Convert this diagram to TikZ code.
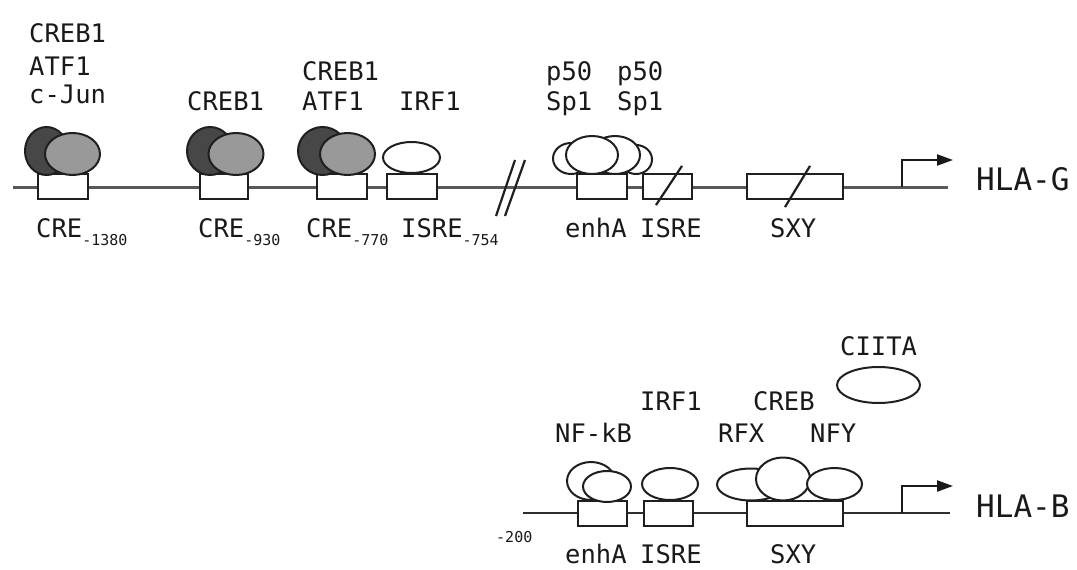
\documentclass[tikz,border=0pt]{standalone}
\usepackage{fontspec}
\newfontfamily\mono{DejaVu Sans Mono}
\newcommand\subsz{\fontsize{15}{18}\selectfont}
\usetikzlibrary{shapes.geometric,arrows.meta}
\begin{document}
\begin{tikzpicture}[x=1pt,y=-1pt,
  lbl/.style={font=\mono\fontsize{25.5}{30}\selectfont, text=black!90, inner sep=0, anchor=base west},
  big/.style={font=\mono\fontsize{31}{36}\selectfont, text=black!90, inner sep=0, anchor=base west},
  sublbl/.style={font=\mono\subsz, text=black!90, inner sep=0, anchor=base west},
  dnaG/.style={draw=black!65, line width=3pt},
  dnaB/.style={draw=black!82, line width=2.4pt},
  site/.style={rectangle, draw=black!88, line width=2.2pt, fill=white, inner sep=0, minimum height=25},
  prot/.style={ellipse, draw=black!88, line width=2pt, fill=white, inner sep=0},
  darkp/.style={prot, fill=black!72},
  grayp/.style={prot, fill=black!40},
  tss/.style={draw=black!90, line width=2.2pt, -{Triangle[length=16pt,width=11pt]}},
  brk/.style={draw=black!88, line width=2.2pt},
]
\useasboundingbox (0,0) rectangle (1077,570);

% ---------------- HLA-G ----------------
\coordinate (gL) at (13,187);
\coordinate (gR) at (948,187);
\draw[dnaG] (gL) -- (gR);

% break
\coordinate (k1a) at (496,216); \coordinate (k1b) at (515,160);
\coordinate (k2a) at (505,216); \coordinate (k2b) at (525,160);
\draw[brk] (k1a) -- (k1b);
\draw[brk] (k2a) -- (k2b);

% sites
\node[site, minimum width=50] (cre1) at (63,186.5) {};
\node[site, minimum width=48] (cre2) at (224,186.5) {};
\node[site, minimum width=50] (cre3) at (342,186.5) {};
\node[site, minimum width=50] (isre1) at (412,186.5) {};
\node[site, minimum width=50] (enhG) at (602,186.5) {};
\node[site, minimum width=49] (isreG) at (667.5,186.5) {};
\node[site, minimum width=96] (sxyG) at (795,186.5) {};
\draw[brk] ([shift={(-11.5,5)}]isreG.south) -- ([shift={(14.5,-7)}]isreG.north);
\draw[brk] ([shift={(-10,7)}]sxyG.south) -- ([shift={(15,-7)}]sxyG.north);

% proteins
\node[darkp, minimum width=43, minimum height=48] (d1) at (46.5,151) {};
\node[grayp, minimum width=55, minimum height=42] (g1) at (72.5,154) {};
\node[darkp, minimum width=46, minimum height=48] (d2) at (210,151) {};
\node[grayp, minimum width=55, minimum height=42] (g2) at (236,154) {};
\node[darkp, minimum width=49, minimum height=48] (d3) at (322.5,151) {};
\node[grayp, minimum width=55, minimum height=42] (g3) at (347.5,154) {};
\node[prot, minimum width=57, minimum height=31] (irfG) at (411.5,157.5) {};
\node[prot, minimum width=36, minimum height=31] (e1) at (571,158.5) {};
\node[prot, minimum width=32, minimum height=29] (e4) at (636,159.5) {};
\node[prot, minimum width=50, minimum height=38] (e3) at (615,155) {};
\node[prot, minimum width=52, minimum height=38] (e2) at (592,155) {};

% promoter
\coordinate (tG) at (902,187);
\coordinate (aG) at (953,160);
\draw[tss] (tG) |- (aG);

% labels
\node[lbl] (t1a) at (29,42) {CREB1};
\node[lbl] (t1b) at (29,75) {ATF1};
\node[lbl] (t1c) at (29,103) {c-Jun};
\node[lbl] (t2a) at (187,110) {CREB1};
\node[lbl] (t3a) at (302,80) {CREB1};
\node[lbl] (t3b) at (302,110) {ATF1};
\node[lbl] (t4a) at (399,110) {IRF1};
\node[lbl] (t5a) at (546,80) {p50};
\node[lbl] (t5b) at (546,110) {Sp1};
\node[lbl] (t6a) at (617,80) {p50};
\node[lbl] (t6b) at (617,110) {Sp1};

\node[lbl] (b1) at (36,237) {CRE\raisebox{-8pt}{\subsz -1380}};
\node[lbl] (b2) at (198,237) {CRE\raisebox{-8pt}{\subsz -930}};
\node[lbl] (b3) at (306,237) {CRE\raisebox{-8pt}{\subsz -770}};
\node[lbl] (b4) at (401,237) {ISRE\raisebox{-8pt}{\subsz -754}};
\node[lbl] (b5) at (565,237) {enhA};
\node[lbl] (b6) at (640,237) {ISRE};
\node[lbl] (b7) at (770,237) {SXY};
\node[big] (hlag) at (976,190) {HLA-G};

% ---------------- HLA-B ----------------
\coordinate (bL) at (523,513);
\coordinate (bR) at (950,513);
\draw[dnaB] (bL) -- (bR);

\node[site, minimum width=49] (enhB) at (602.5,513.5) {};
\node[site, minimum width=49] (isreB) at (668.5,513.5) {};
\node[site, minimum width=96] (sxyB) at (795,513.5) {};

\node[prot, minimum width=48, minimum height=38] (nfa) at (591,481) {};
\node[prot, minimum width=48, minimum height=31] (nfb) at (607,486.5) {};
\node[prot, minimum width=56, minimum height=32] (irfB) at (670,484) {};
\node[prot, minimum width=68, minimum height=32] (rfx) at (751,484.5) {};
\node[prot, minimum width=54, minimum height=43] (creb) at (783,479) {};
\node[prot, minimum width=55, minimum height=32] (nfy) at (834.5,484) {};
\node[prot, minimum width=83, minimum height=36] (ciita) at (878.5,385) {};

\coordinate (tB) at (902,513);
\coordinate (aB) at (953,486);
\draw[tss] (tB) |- (aB);

\node[lbl] (u1) at (840,355) {CIITA};
\node[lbl] (u2) at (753,410) {CREB};
\node[lbl] (u3) at (640,410) {IRF1};
\node[lbl] (u4) at (555,442) {NF-kB};
\node[lbl] (u5) at (718,442) {RFX};
\node[lbl] (u6) at (810,442) {NFY};
\node[sublbl] (m200) at (496,542) {-200};
\node[lbl] (v1) at (565,563) {enhA};
\node[lbl] (v2) at (640,563) {ISRE};
\node[lbl] (v3) at (770,563) {SXY};
\node[big] (hlab) at (976,517) {HLA-B};
\end{tikzpicture}
\end{document}
